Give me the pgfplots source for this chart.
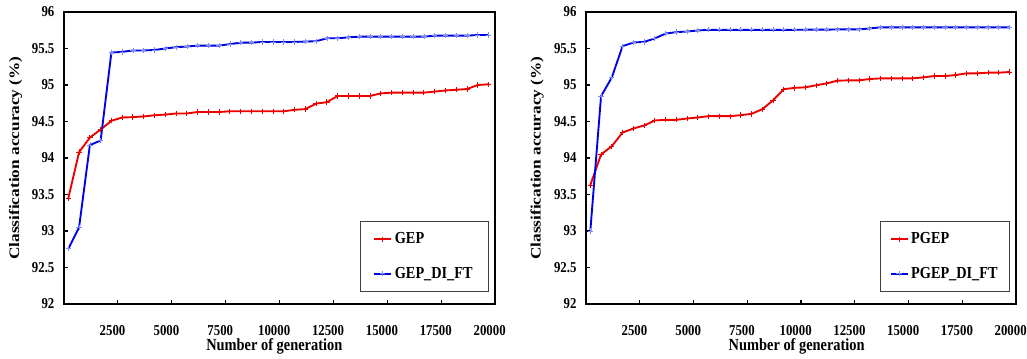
\documentclass[border=0pt]{standalone}
\usepackage{fontspec}
\setmainfont{Liberation Serif}
\usepackage{pgfplots}
\usepackage{pgfplotstable}
\pgfplotsset{compat=1.18}
\definecolor{myred}{RGB}{235,0,0}
\definecolor{myblue}{RGB}{0,0,230}
\definecolor{mylblue}{RGB}{120,140,255}
\pgfplotstableread{
x gep gepdi pgep pgepdi
200 93.45 92.756 93.628 92.998
700 94.08 93.05 94.048 94.847
1200 94.28 94.176 94.162 95.103
1700 94.39 94.24 94.349 95.532
2200 94.51 95.445 94.404 95.582
2700 94.555 95.454 94.445 95.591
3200 94.56 95.473 94.514 95.637
3700 94.57 95.473 94.523 95.705
4200 94.585 95.48 94.523 95.724
4700 94.595 95.5 94.541 95.733
5200 94.61 95.518 94.555 95.747
5700 94.61 95.527 94.573 95.756
6200 94.63 95.54 94.573 95.756
6700 94.63 95.54 94.573 95.756
7200 94.63 95.54 94.587 95.756
7700 94.64 95.56 94.605 95.756
8200 94.64 95.58 94.669 95.756
8700 94.64 95.58 94.79 95.756
9200 94.64 95.59 94.943 95.756
9700 94.64 95.59 94.961 95.756
10200 94.64 95.59 94.968 95.758
10700 94.66 95.59 94.996 95.758
11200 94.67 95.595 95.023 95.758
11700 94.745 95.6 95.059 95.762
12200 94.765 95.64 95.064 95.762
12700 94.85 95.64 95.064 95.762
13200 94.85 95.653 95.082 95.775
13700 94.85 95.662 95.091 95.79
14200 94.85 95.662 95.091 95.79
14700 94.885 95.662 95.091 95.79
15200 94.895 95.662 95.091 95.79
15700 94.895 95.662 95.105 95.79
16200 94.895 95.662 95.123 95.79
16700 94.895 95.662 95.123 95.79
17200 94.91 95.676 95.137 95.79
17700 94.925 95.676 95.16 95.79
18200 94.935 95.676 95.16 95.79
18700 94.945 95.676 95.169 95.79
19200 95.0 95.685 95.169 95.79
19700 95.01 95.685 95.178 95.79
}\data
\newcommand\tickfont{\fontsize{9.6pt}{11pt}\selectfont\bfseries}
\newcommand\labfont{\fontsize{10.8pt}{12pt}\selectfont\bfseries}
\newcommand\legfont{\fontsize{10.7pt}{12pt}\selectfont\bfseries}
\pgfplotsset{
  myaxis/.style={
    scale only axis,
    height=219pt,
    xmin=0, xmax=20000, ymin=92, ymax=96,
    xtick={2500,5000,7500,10000,12500,15000,17500,20000},
    xticklabels={2500,5000,7500,10000,12500,15000,17500,20000},
    ytick={92,92.5,93,93.5,94,94.5,95,95.5,96},
    yticklabels={92,92.5,93,93.5,94,94.5,95,95.5,96},
    tick pos=left, tick align=inside, major tick length=3pt,
    axis line style={line width=1.3pt},
    every tick/.style={black, line width=0.9pt},
    tick label style={font=\tickfont, yscale=1.18},
    /pgf/number format/assume math mode=true,
    xticklabel style={anchor=center, inner sep=0pt, yshift=-17pt, xshift=-4pt},
    yticklabel style={anchor=east, inner sep=0pt, xshift=-7pt},
    xlabel style={font=\labfont, anchor=center, inner sep=0pt, yscale=1.18},
    ylabel style={font=\labfont, anchor=center, inner sep=0pt, xscale=1.2},
    legend cell align=left,
    legend image code/.code={\draw[mark repeat=2,mark phase=2,#1] plot coordinates {(0pt,0pt) (6.4pt,0pt) (12.75pt,0pt)};},
  },
  redline/.style={myred, line width=1.4pt, mark=+, mark size=2pt, mark options={solid, line width=0.7pt}},
  blueline/.style={myblue, line width=1.4pt, mark=+, mark size=2pt, mark options={solid, line width=0.5pt, mylblue}},
}
\begin{document}
\begin{tikzpicture}
\useasboundingbox (0,0) rectangle (770.25pt,268.5pt);
\begin{axis}[myaxis, at={(48pt,40.5pt)}, anchor=south west, width=323.25pt,
  xlabel={Number of generation}, ylabel={Classification accuracy (\%)},
  xlabel style={at={(axis description cs:0.488,-0.145)}},
  ylabel style={at={(axis description cs:-0.112,0.5)}},
  legend style={at={(0.986,0.041)}, anchor=south east, draw=black!75, line width=0.6pt,
    font=\legfont, inner xsep=10pt, inner ysep=6pt, row sep=11pt,
    nodes={yscale=1.18}}]
\addplot[redline] table[x=x, y=gep] {\data};
\addlegendentry{GEP}
\addplot[blueline] table[x=x, y=gepdi] {\data};
\addlegendentry{GEP\_DI\_FT}
\end{axis}
\begin{axis}[myaxis, at={(439.5pt,40.5pt)}, anchor=south west, width=322.5pt,
  xlabel={Number of generation}, ylabel={Classification accuracy (\%)},
  xlabel style={at={(axis description cs:0.49,-0.145)}},
  ylabel style={at={(axis description cs:-0.114,0.5)}},
  legend style={at={(0.986,0.041)}, anchor=south east, draw=black!75, line width=0.6pt,
    font=\legfont, inner xsep=7pt, inner ysep=6pt, row sep=11pt,
    nodes={yscale=1.18}}]
\addplot[redline] table[x=x, y=pgep] {\data};
\addlegendentry{PGEP}
\addplot[blueline] table[x=x, y=pgepdi] {\data};
\addlegendentry{PGEP\_DI\_FT}
\end{axis}
\end{tikzpicture}
\end{document}
